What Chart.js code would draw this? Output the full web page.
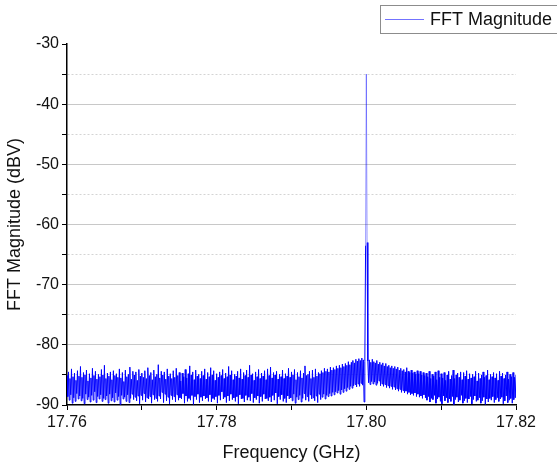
<!DOCTYPE html>
<html lang="en">
<head>
    <meta charset="UTF-8">
    <title>FFT Magnitude</title>
    <script src="https://cdn.jsdelivr.net/npm/chart.js"></script>
    <style>
        html, body { margin: 0; padding: 0; background: #fff; }
    </style>
</head>
<body>
    <canvas id="fftChart" width="557" height="468"></canvas>

    <script>
        // frequency bins (GHz): evenly spaced FFT grid
        const freqStart = 17.76;
        const freqStep = 0.0001;

        // magnitude per bin (dBV)
        const magnitude = [
            -85.1, -88.6, -84.5, -89.2, -85.6, -88.3, -84.0, -89.7, -85.3, -88.8,
            -84.7, -89.4, -85.9, -88.1, -84.3, -89.0, -85.2, -88.5, -83.6, -89.3,
            -85.4, -88.9, -84.6, -89.8, -85.0, -88.2, -84.2, -89.1, -86.0, -88.7,
            -84.8, -89.5, -85.5, -88.4, -83.9, -89.2, -85.1, -87.8, -84.4, -89.6,
            -85.7, -88.6, -84.9, -89.0, -85.3, -88.3, -84.1, -89.4, -85.0, -88.9,
            -83.4, -89.1, -85.6, -88.5, -84.7, -89.7, -85.2, -88.2, -84.5, -89.3,
            -85.8, -88.8, -84.3, -89.5, -85.1, -88.0, -84.8, -89.2, -85.4, -88.6,
            -84.0, -89.9, -85.5, -88.4, -84.6, -89.0, -86.1, -88.7, -84.2, -89.4,
            -85.3, -88.3, -84.9, -89.6, -83.7, -88.9, -85.7, -88.2, -84.4, -89.1,
            -85.0, -88.7, -84.5, -89.3, -85.9, -88.5, -84.1, -89.8, -85.2, -88.4,
            -84.7, -89.2, -85.4, -88.1, -84.3, -89.5, -85.6, -88.8, -83.8, -89.0,
            -85.1, -88.6, -84.6, -89.7, -85.8, -88.3, -84.2, -89.1, -85.3, -88.9,
            -84.9, -89.4, -83.3, -88.5, -85.5, -89.0, -84.4, -87.9, -85.0, -89.6,
            -84.5, -88.2, -85.7, -89.3, -84.0, -88.7, -85.2, -89.8, -84.8, -88.4,
            -85.6, -89.1, -84.3, -88.6, -85.4, -89.5, -83.9, -88.3, -85.1, -89.2,
            -84.6, -88.8, -86.0, -89.0, -84.7, -88.1, -85.3, -89.7, -84.1, -88.5,
            -85.5, -89.4, -84.8, -88.9, -83.5, -89.2, -85.0, -88.4, -84.5, -89.9,
            -85.8, -88.6, -84.2, -89.1, -85.2, -88.2, -84.9, -89.6, -85.6, -88.7,
            -84.4, -89.3, -85.1, -88.5, -84.0, -89.0, -85.7, -88.8, -84.6, -89.4,
            -85.3, -88.3, -83.8, -89.5, -85.0, -88.9, -84.3, -89.1, -85.9, -88.6,
            -84.8, -89.7, -85.4, -88.4, -84.5, -89.2, -85.1, -87.8, -84.1, -89.0,
            -85.6, -88.7, -84.7, -89.6, -85.3, -88.5, -83.6, -89.3, -85.0, -88.2,
            -84.3, -89.1, -85.8, -88.8, -84.9, -89.4, -85.2, -88.6, -84.4, -89.8,
            -85.5, -88.3, -84.0, -89.0, -85.7, -88.9, -84.6, -89.5, -85.1, -88.4,
            -84.2, -89.2, -85.4, -88.7, -83.4, -89.3, -85.0, -88.1, -84.8, -89.6,
            -85.9, -88.8, -84.5, -89.1, -85.3, -88.5, -84.1, -89.7, -85.6, -88.6,
            -84.7, -89.4, -85.2, -88.2, -84.3, -89.0, -85.8, -88.9, -84.0, -89.3,
            -85.1, -88.7, -83.7, -89.5, -85.5, -88.4, -84.6, -89.2, -85.0, -88.0,
            -84.4, -89.8, -85.7, -88.6, -84.9, -89.1, -85.3, -88.3, -84.2, -89.4,
            -85.6, -88.9, -84.8, -89.6, -85.2, -88.5, -83.9, -89.0, -85.4, -88.8,
            -84.5, -89.3, -85.0, -88.2, -84.1, -89.7, -85.8, -88.7, -84.6, -89.1,
            -85.3, -88.4, -84.3, -89.5, -85.5, -88.9, -84.7, -88.1, -83.5, -89.2,
            -85.1, -88.6, -84.9, -89.4, -84.4, -88.3, -85.6, -89.0, -84.2, -88.8,
            -85.4, -89.3, -84.0, -88.5, -85.2, -89.6, -84.6, -88.2, -84.8, -89.1,
            -84.3, -88.7, -84.6, -88.2, -83.9, -89.0, -84.4, -88.4, -84.0, -88.6,
            -84.5, -88.1, -83.7, -88.5, -84.2, -87.9, -83.8, -88.3, -84.1, -87.8,
            -83.5, -88.0, -83.9, -87.6, -83.4, -88.2, -83.8, -87.5, -83.2, -87.9,
            -83.6, -87.3, -83.1, -87.7, -83.4, -87.1, -82.8, -87.4, -83.3, -86.9,
            -82.9, -87.2, -82.6, -86.8, -83.0, -86.6, -82.4, -87.0, -82.7, -86.5,
            -82.3, -86.9, -82.6, -86.4, -82.2, -86.7, -82.5, -89.5, -82.8, -63.5,
            -35.0, -63.0, -82.7, -86.3, -82.5, -86.6, -82.9, -86.1, -82.4, -86.5,
            -82.8, -86.2, -83.0, -86.7, -82.6, -86.4, -83.2, -86.0, -82.9, -86.8,
            -83.3, -86.5, -83.0, -86.9, -83.5, -86.6, -83.1, -87.1, -83.6, -86.8,
            -83.4, -87.2, -83.8, -86.9, -83.5, -87.4, -83.9, -87.0, -83.6, -87.5,
            -84.0, -87.3, -83.7, -87.7, -84.2, -87.4, -83.9, -87.9, -84.3, -87.6,
            -84.1, -88.0, -84.5, -87.7, -83.8, -88.2, -84.4, -87.9, -84.6, -88.3,
            -84.2, -88.1, -84.7, -88.4, -84.5, -88.0, -84.9, -88.6, -84.3, -88.2,
            -84.8, -88.7, -84.4, -88.5, -85.0, -88.9, -84.6, -88.3, -85.1, -88.8,
            -84.7, -89.2, -85.3, -88.6, -84.4, -89.5, -85.6, -88.9, -84.9, -89.1,
            -85.2, -88.4, -84.5, -89.7, -85.8, -89.0, -84.3, -88.7, -85.4, -89.4,
            -84.8, -89.8, -85.5, -88.5, -84.6, -89.3, -85.9, -88.8, -85.0, -89.6,
            -84.4, -89.0, -85.7, -89.4, -85.1, -88.6, -84.2, -89.9, -85.6, -89.1,
            -85.0, -88.7, -84.7, -89.5, -85.4, -89.2, -84.5, -88.4, -85.8, -89.7,
            -84.6, -89.3, -85.2, -88.9, -84.3, -89.6, -85.7, -89.0, -84.8, -88.6,
            -85.5, -89.8, -84.9, -89.1, -85.3, -88.5, -84.4, -89.4, -86.0, -89.2,
            -84.7, -88.8, -85.6, -89.7, -85.0, -89.3, -84.5, -88.7, -85.4, -89.9,
            -85.1, -89.0, -84.2, -89.5, -85.8, -88.9, -84.9, -89.2, -85.3, -88.6,
            -84.6, -89.6, -85.5, -89.1, -84.8, -88.8, -85.9, -89.4, -84.4, -89.0,
            -85.2, -88.7, -84.7, -89.8, -85.6, -89.3, -85.0, -88.5, -84.5, -89.6,
            -85.7, -89.2, -84.9, -88.9, -85.3, -89.7, -84.6, -89.1, -85.4, -88.8,
            -85.0
        ];

        const seriesName = 'FFT Magnitude';
        const xTickLabels = ['17.76', '17.78', '17.80', '17.82'];
        const yTickLabels = [-90, -80, -70, -60, -50, -40, -30];

        const points = magnitude.map((m, i) => ({ x: freqStart + i * freqStep, y: m }));

        const FONT = "'Liberation Sans', Arial, sans-serif";

        // legend drawn by hand: framed box that runs off the right edge
        const legendBox = {
            id: 'legendBox',
            afterDraw(chart) {
                const c = chart.ctx;
                c.save();
                c.strokeStyle = '#8c8c8c';
                c.lineWidth = 1;
                c.strokeRect(380.5, 5.5, 200, 28);
                c.strokeStyle = 'rgba(0, 0, 255, 0.55)';
                c.beginPath();
                c.moveTo(385, 19.5);
                c.lineTo(424, 19.5);
                c.stroke();
                c.fillStyle = '#111';
                c.font = '18px ' + FONT;
                c.textBaseline = 'middle';
                c.fillText(seriesName, 430, 20);
                c.restore();
            }
        };

        const ctx = document.getElementById('fftChart').getContext('2d');
        const chart = new Chart(ctx, {
            type: 'line',
            data: {
                datasets: [{
                    label: seriesName,
                    data: points,
                    borderColor: 'rgb(0, 0, 255)',
                    borderWidth: 1,
                    pointRadius: 0,
                    tension: 0,
                    segment: {
                        // the tall spike reads lighter above where it doubles back
                        borderColor: s => (s.p0.parsed.y > -70 && s.p1.parsed.y > -70) ? 'rgba(0, 0, 255, 0.4)' : undefined
                    }
                }]
            },
            options: {
                responsive: false,
                animation: false,
                layout: { padding: { top: 44, right: 41, bottom: 0, left: 0 } },
                plugins: {
                    tooltip: { enabled: false },
                    legend: { display: false }
                },
                scales: {
                    x: {
                        type: 'linear',
                        min: 17.76,
                        max: 17.82,
                        afterFit: s => { s.height = 63; },
                        grid: { drawOnChartArea: false, tickLength: 5, tickColor: '#000' },
                        border: { color: '#000', width: 1.5 },
                        ticks: {
                            stepSize: 0.01,
                            autoSkip: false,
                            maxRotation: 0,
                            color: '#111',
                            padding: 3,
                            font: { family: FONT, size: 16 },
                            callback: v => {
                                const s = Number(v).toFixed(2);
                                return xTickLabels.includes(s) ? s : '';
                            }
                        },
                        title: {
                            display: true,
                            text: 'Frequency (GHz)',
                            color: '#111',
                            padding: { top: 6 },
                            font: { family: FONT, size: 18 }
                        }
                    },
                    y: {
                        min: -90,
                        max: -30,
                        afterFit: s => { s.width = 67; },
                        grid: {
                            tickLength: 5,
                            tickColor: '#000',
                            color: c => {
                                const v = c.tick ? c.tick.value : 0;
                                if (v === -30 || v === -90) return 'rgba(0,0,0,0)';
                                return v % 10 === 0 ? '#c8c8c8' : '#d4d4d4';
                            }
                        },
                        border: {
                            color: '#000',
                            width: 1.5,
                            dash: c => (c.tick && c.tick.value % 10 !== 0) ? [2, 2] : []
                        },
                        ticks: {
                            stepSize: 5,
                            color: '#111',
                            padding: 3,
                            font: { family: FONT, size: 16 },
                            callback: v => yTickLabels.includes(v) ? String(v) : ''
                        },
                        title: {
                            display: true,
                            text: 'FFT Magnitude (dBV)',
                            color: '#111',
                            padding: { bottom: 4 },
                            font: { family: FONT, size: 18 }
                        }
                    }
                }
            },
            plugins: [legendBox]
        });
    </script>
</body>
</html>
